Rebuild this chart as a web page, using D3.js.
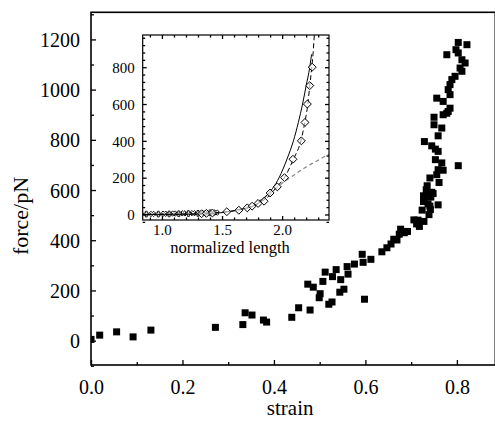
<!DOCTYPE html>
<html>
<head>
<meta charset="utf-8">
<script src="https://cdn.jsdelivr.net/npm/d3@7"></script>
<style>
  html, body { margin: 0; padding: 0; background: #fff; }
  svg { display: block; }
</style>
</head>
<body>
<svg id="chart" width="495" height="422"></svg>
<script>
/* force vs strain, with inset force vs normalized length */

const SERIF = "'Liberation Serif', 'DejaVu Serif', serif";

// main scatter: strain
const strain = [
  0.0, 0.019, 0.056, 0.092, 0.131, 0.272, 0.332, 0.337, 0.352, 0.377,
  0.384, 0.439, 0.454, 0.479, 0.474, 0.486, 0.499, 0.501, 0.507, 0.512,
  0.520, 0.527, 0.528, 0.536, 0.544, 0.546, 0.553, 0.560, 0.562, 0.576,
  0.593, 0.595, 0.598, 0.612, 0.636, 0.647, 0.656, 0.662, 0.669, 0.674,
  0.677, 0.685, 0.692, 0.706, 0.712, 0.718, 0.728, 0.739, 0.742, 0.727,
  0.729, 0.741, 0.748, 0.759, 0.737, 0.727, 0.743, 0.745, 0.733, 0.735,
  0.761, 0.741, 0.756, 0.759, 0.770, 0.767, 0.753, 0.803, 0.759, 0.753,
  0.745, 0.729, 0.759, 0.767, 0.750, 0.750, 0.770, 0.781, 0.778, 0.785,
  0.770, 0.756, 0.785, 0.781, 0.785, 0.789, 0.796, 0.811, 0.807, 0.818,
  0.811, 0.778, 0.803, 0.798, 0.822, 0.803, 0.741, 0.724, 0.715
];
// main scatter: force (pN)
const force = [
  5, 22, 35, 15, 42, 53, 64, 111, 102, 82,
  74, 93, 131, 122, 225, 213, 171, 187, 236, 273,
  145, 154, 255, 283, 193, 243, 205, 295, 265, 305,
  344, 312, 165, 324, 354, 370, 385, 404, 401, 424,
  444, 430, 435, 481, 465, 455, 475, 502, 522, 554,
  561, 585, 586, 541, 545, 577, 572, 591, 601, 617,
  630, 648, 661, 681, 679, 708, 721, 697, 754, 763,
  776, 793, 816, 847, 860, 890, 900, 913, 906, 926,
  953, 966, 980, 1000, 1020, 1040, 1053, 1073, 1086, 1106,
  1119, 1139, 1146, 1159, 1179, 1188, 536, 520, 480
];

// inset: open diamonds
const diaLen = [1.33, 1.37, 1.42, 1.54, 1.64, 1.71, 1.75, 1.80, 1.85, 1.90,
  1.96, 2.02, 2.09, 2.16, 2.19, 2.21, 2.23, 2.25];
const diaForce = [4, 6, 8, 15, 23, 36, 45, 60, 72, 117,
  150, 200, 300, 400, 500, 600, 700, 800];

// inset: small star markers at low extension
const starLen = [0.87, 0.92, 0.97, 1.02, 1.06, 1.10, 1.14, 1.18, 1.22, 1.26, 1.30, 1.35, 1.40, 1.45];
const starForce = [2, 3, 2, 4, 3, 5, 4, 6, 5, 7, 6, 8, 9, 10];

// inset: solid fit curve
const solidLen = [0.84, 1.30, 1.50, 1.65, 1.775, 1.867, 1.975, 2.04, 2.094, 2.135, 2.17, 2.20, 2.23, 2.245];
const solidForce = [0, 3, 10, 28, 50, 100, 200, 300, 400, 500, 600, 700, 800, 870];

// inset: black dashed curve through diamonds
const dashLen = [0.84, 1.30, 1.45, 1.68, 1.80, 1.89, 1.956, 2.019, 2.094, 2.156, 2.189, 2.214, 2.23, 2.247, 2.258, 2.268];
const dashForce = [0, 3, 10, 30, 60, 100, 150, 200, 300, 400, 500, 600, 700, 800, 880, 975];

// inset: grey dashed line
const greyLen = [1.80, 1.90, 2.00, 2.10, 2.20, 2.30, 2.39];
const greyForce = [70, 115, 170, 215, 258, 295, 328];

const mainXTicks = [0, 0.2, 0.4, 0.6, 0.8];
const mainYTicks = [0, 200, 400, 600, 800, 1000, 1200];
const insetXTicks = [1.0, 1.5, 2.0];
const insetYTicks = [0, 200, 400, 600, 800];

const svg = d3.select("#chart");

// ---- main panel ----
const x = d3.scaleLinear().domain([0, 0.884]).range([91, 495.3]);
const y = d3.scaleLinear().domain([-97, 1308]).range([365, 12.3]);

svg.append("clipPath").attr("id", "mainClip")
  .append("rect")
  .attr("x", x.range()[0]).attr("y", y.range()[1])
  .attr("width", x.range()[1] - x.range()[0])
  .attr("height", y.range()[0] - y.range()[1]);

function drawAxes(g, xs, ys, opt) {
  const [x0, x1] = xs.range();
  const [y0, y1] = ys.range();

  // minor ticks
  g.append("g")
    .attr("transform", `translate(0,${y0})`)
    .call(d3.axisBottom(xs).tickValues(opt.xMinor).tickSize(-opt.minor).tickFormat(""));
  g.append("g")
    .attr("transform", `translate(${x0},0)`)
    .call(d3.axisLeft(ys).tickValues(opt.yMinor).tickSize(-opt.minor).tickFormat(""));

  // major ticks with labels
  g.append("g")
    .attr("transform", `translate(0,${y0})`)
    .call(d3.axisBottom(xs).tickValues(opt.xTicks).tickSize(-opt.major)
      .tickPadding(opt.xPad).tickFormat(d3.format(".1f")));
  g.append("g")
    .attr("transform", `translate(${x0},0)`)
    .call(d3.axisLeft(ys).tickValues(opt.yTicks).tickSize(-opt.major)
      .tickPadding(opt.yPad).tickFormat(d3.format("d")))
    .call(a => a.selectAll("text").attr("dy", "0.35em"));

  if (opt.allSides) {
    g.append("g")
      .attr("transform", `translate(0,${y1})`)
      .call(d3.axisTop(xs).tickValues(opt.xMinor).tickSize(-opt.minor).tickFormat(""));
    g.append("g")
      .attr("transform", `translate(0,${y1})`)
      .call(d3.axisTop(xs).tickValues(opt.xTicks).tickSize(-opt.major).tickFormat(""));
    g.append("g")
      .attr("transform", `translate(${x1},0)`)
      .call(d3.axisRight(ys).tickValues(opt.yMinor).tickSize(-opt.minor).tickFormat(""));
    g.append("g")
      .attr("transform", `translate(${x1},0)`)
      .call(d3.axisRight(ys).tickValues(opt.yTicks).tickSize(-opt.major).tickFormat(""));
  }

  g.selectAll(".domain").remove();
  g.selectAll(".tick line").attr("stroke", "#000").attr("stroke-width", 1.3);
  g.selectAll(".tick text")
    .attr("fill", "#000")
    .style("font-family", SERIF)
    .style("font-size", opt.font + "px");

  // frame
  g.append("rect")
    .attr("x", x0).attr("y", y1)
    .attr("width", x1 - x0).attr("height", y0 - y1)
    .attr("fill", "none").attr("stroke", "#000").attr("stroke-width", opt.frame);
}

const mainG = svg.append("g");
drawAxes(mainG, x, y, {
  xTicks: mainXTicks,
  xMinor: d3.range(0.1, 0.9, 0.2),
  yTicks: mainYTicks,
  yMinor: d3.range(-100, 1301, 200),
  major: 5, minor: 3, font: 20, xPad: 15, yPad: 11, allSides: false, frame: 1.6
});

// squares
svg.append("g")
  .attr("clip-path", "url(#mainClip)")
  .selectAll("rect")
  .data(d3.range(strain.length))
  .join("rect")
  .attr("x", i => x(strain[i]) - 3.5)
  .attr("y", i => y(force[i]) - 3.5)
  .attr("width", 7).attr("height", 7)
  .attr("fill", "#000");

svg.append("text")
  .attr("x", (x(0) + x(0.884)) / 2 - 3)
  .attr("y", 415)
  .attr("text-anchor", "middle")
  .style("font-family", SERIF)
  .style("font-size", "21px")
  .text("strain");

svg.append("text")
  .attr("transform", `translate(28,${y(600) + 26}) rotate(-90)`)
  .attr("text-anchor", "middle")
  .style("font-family", SERIF)
  .style("font-size", "22px")
  .text("force/pN");

// ---- inset ----
const ix = d3.scaleLinear().domain([0.84, 2.39]).range([142.7, 329]);
const iy = d3.scaleLinear().domain([-30, 975]).range([220, 35]);

svg.append("rect")
  .attr("x", 142.7).attr("y", 35)
  .attr("width", 329 - 142.7).attr("height", 185)
  .attr("fill", "#fff");

svg.append("clipPath").attr("id", "insetClip")
  .append("rect")
  .attr("x", 142.7).attr("y", 35)
  .attr("width", 329 - 142.7).attr("height", 185);

const inG = svg.append("g");

const line = d3.line().curve(d3.curveMonotoneX);
const curves = inG.append("g").attr("clip-path", "url(#insetClip)");

curves.append("path")
  .attr("d", line(greyLen.map((l, i) => [ix(l), iy(greyForce[i])])))
  .attr("fill", "none").attr("stroke", "#888").attr("stroke-width", 1.2)
  .attr("stroke-dasharray", "4,3");

curves.append("path")
  .attr("d", line(solidLen.map((l, i) => [ix(l), iy(solidForce[i])])))
  .attr("fill", "none").attr("stroke", "#000").attr("stroke-width", 1);

curves.append("path")
  .attr("d", line(dashLen.map((l, i) => [ix(l), iy(dashForce[i])])))
  .attr("fill", "none").attr("stroke", "#000").attr("stroke-width", 1)
  .attr("stroke-dasharray", "5,3");

const star = d3.symbol().type(d3.symbolCross).size(18);
curves.append("g")
  .selectAll("path")
  .data(d3.range(starLen.length))
  .join("path")
  .attr("transform", i => `translate(${ix(starLen[i])},${iy(starForce[i])}) rotate(${i % 2 ? 45 : 0})`)
  .attr("d", star)
  .attr("fill", "none").attr("stroke", "#000").attr("stroke-width", 0.9);

const diamond = d3.symbol().type(d3.symbolDiamond2).size(40);
curves.append("g")
  .selectAll("path")
  .data(d3.range(diaLen.length))
  .join("path")
  .attr("transform", i => `translate(${ix(diaLen[i])},${iy(diaForce[i])})`)
  .attr("d", diamond)
  .attr("fill", "#fff").attr("fill-opacity", 0.6)
  .attr("stroke", "#000").attr("stroke-width", 1);

drawAxes(inG, ix, iy, {
  xTicks: insetXTicks,
  xMinor: d3.range(0.9, 2.4, 0.1).filter(v => Math.abs(v * 2 - Math.round(v * 2)) > 0.01),
  yTicks: insetYTicks,
  yMinor: d3.range(-40, 961, 40).filter(v => v % 200 !== 0),
  major: 4, minor: 2.5, font: 15, xPad: 4, yPad: 8, allSides: true, frame: 1.2
});

svg.append("text")
  .attr("x", 230)
  .attr("y", 253)
  .attr("text-anchor", "middle")
  .style("font-family", SERIF)
  .style("font-size", "16.5px")
  .text("normalized length");
</script>
</body>
</html>
